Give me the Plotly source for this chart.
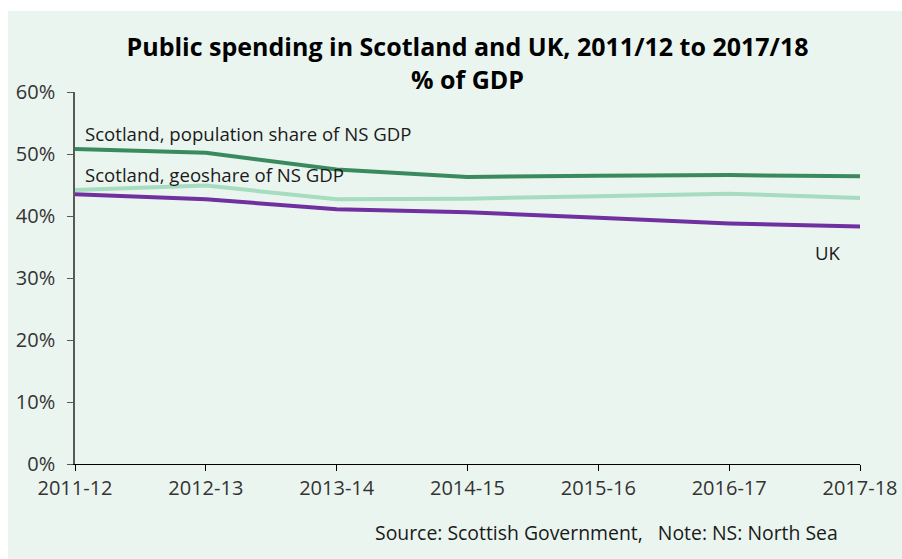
import plotly.graph_objects as go

years = ["2011-12", "2012-13", "2013-14", "2014-15", "2015-16", "2016-17", "2017-18"]
pop_share = [50.8, 50.2, 47.5, 46.3, 46.5, 46.6, 46.4]
geo_share = [44.2, 44.9, 42.7, 42.8, 43.2, 43.6, 42.9]
uk = [43.5, 42.7, 41.1, 40.6, 39.7, 38.8, 38.3]
y_ticks = [0, 10, 20, 30, 40, 50, 60]
y_tick_text = ["0%", "10%", "20%", "30%", "40%", "50%", "60%"]

BG = "#ebf5ef"
FONT = "Open Sans"

fig = go.Figure()
fig.add_trace(go.Scatter(x=years, y=geo_share, mode="lines",
                         line=dict(color="#a6dcbf", width=4), name="geo"))
fig.add_trace(go.Scatter(x=years, y=uk, mode="lines",
                         line=dict(color="#7030a0", width=4), name="UK"))
fig.add_trace(go.Scatter(x=years, y=pop_share, mode="lines",
                         line=dict(color="#3a8a5e", width=4), name="pop"))

L, R, T, B = 75, 42, 92, 95
W, H = 902, 559
pw, ph = W - L - R, H - T - B

def px(x):
    return (x - L) / pw

def py(y):
    return (H - B - y) / ph

fig.add_shape(type="rect", xref="paper", yref="paper",
              x0=px(8), x1=px(W + 5), y0=py(H + 5), y1=py(11),
              fillcolor=BG, line=dict(width=0), layer="below")

ann_font = dict(family=FONT, size=18.6, color="#1a1a1a")
fig.add_annotation(x=px(83), y=py(133), xref="paper", yref="paper",
                   text="Scotland, population share of NS GDP", showarrow=False,
                   xanchor="left", yanchor="middle", font=ann_font)
fig.add_annotation(x=px(83), y=py(174), xref="paper", yref="paper",
                   text="Scotland, geoshare of NS GDP", showarrow=False,
                   xanchor="left", yanchor="middle", font=ann_font)
fig.add_annotation(x=px(828), y=py(253), xref="paper", yref="paper",
                   text="UK", showarrow=False,
                   xanchor="center", yanchor="middle", font=ann_font)
fig.add_annotation(x=px(840), y=py(532), xref="paper", yref="paper",
                   text="Source: Scottish Government,   Note: NS: North Sea", showarrow=False,
                   xanchor="right", yanchor="middle",
                   font=dict(family=FONT, size=19.4, color="#1a1a1a"))

fig.update_layout(
    width=W, height=H,
    margin=dict(l=L, r=R, t=T, b=B, autoexpand=False),
    paper_bgcolor="white",
    plot_bgcolor="rgba(0,0,0,0)",
    showlegend=False,
    title=dict(text="<b>Public spending in Scotland and UK, 2011/12 to 2017/18<br>% of GDP</b>",
               x=0.5, xref="paper", xanchor="center", y=1 - 56 / H, yanchor="middle",
               font=dict(family=FONT, size=25, color="#000000")),
    font=dict(family=FONT, color="#333333"),
)
fig.update_xaxes(type="category", range=[0, 6], showgrid=False, zeroline=False,
                 automargin=False,
                 showline=True, linecolor="#000000", linewidth=1.2,
                 ticks="outside", ticklen=6, tickcolor="#000000", tickwidth=1.2,
                 tickfont=dict(family=FONT, size=20, color="#333333"))
fig.update_yaxes(range=[0, 60], tickvals=y_ticks, ticktext=y_tick_text,
                 showgrid=False, zeroline=False, automargin=False,
                 showline=True, linecolor="#595959", linewidth=1.5,
                 ticks="outside", ticklen=6, tickcolor="#595959", tickwidth=1.2,
                 ticklabelstandoff=8,
                 tickfont=dict(family=FONT, size=20, color="#333333"))

fig.write_html("out.html")
